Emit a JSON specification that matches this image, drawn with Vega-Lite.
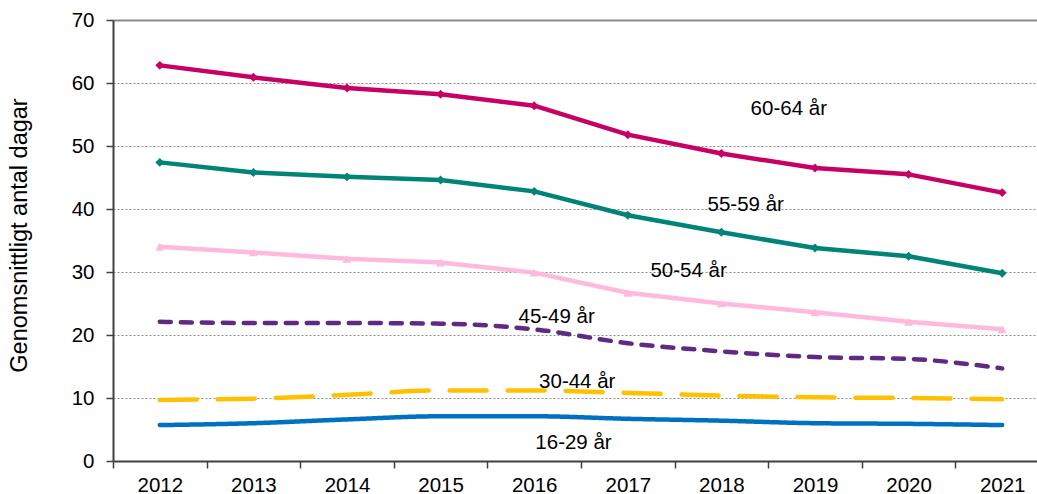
{
  "$schema": "https://vega.github.io/schema/vega-lite/v6.json",
  "width": 924,
  "height": 441,
  "autosize": {"type": "none"},
  "padding": {"left": 113, "top": 20, "right": 0, "bottom": 33},
  "config": {
    "view": {"stroke": null},
    "font": "Liberation Sans",
    "axis": {"labelFont": "Liberation Sans", "titleFont": "Liberation Sans"}
  },
  "datasets": {
    "series": [
      {"group": "60-64 år", "year": 2012, "value": 62.8},
      {"group": "60-64 år", "year": 2013, "value": 60.9},
      {"group": "60-64 år", "year": 2014, "value": 59.2},
      {"group": "60-64 år", "year": 2015, "value": 58.2},
      {"group": "60-64 år", "year": 2016, "value": 56.4},
      {"group": "60-64 år", "year": 2017, "value": 51.8},
      {"group": "60-64 år", "year": 2018, "value": 48.8},
      {"group": "60-64 år", "year": 2019, "value": 46.5},
      {"group": "60-64 år", "year": 2020, "value": 45.5},
      {"group": "60-64 år", "year": 2021, "value": 42.6},
      {"group": "55-59 år", "year": 2012, "value": 47.4},
      {"group": "55-59 år", "year": 2013, "value": 45.8},
      {"group": "55-59 år", "year": 2014, "value": 45.1},
      {"group": "55-59 år", "year": 2015, "value": 44.6},
      {"group": "55-59 år", "year": 2016, "value": 42.8},
      {"group": "55-59 år", "year": 2017, "value": 39.0},
      {"group": "55-59 år", "year": 2018, "value": 36.3},
      {"group": "55-59 år", "year": 2019, "value": 33.8},
      {"group": "55-59 år", "year": 2020, "value": 32.5},
      {"group": "55-59 år", "year": 2021, "value": 29.8},
      {"group": "50-54 år", "year": 2012, "value": 34.0},
      {"group": "50-54 år", "year": 2013, "value": 33.1},
      {"group": "50-54 år", "year": 2014, "value": 32.1},
      {"group": "50-54 år", "year": 2015, "value": 31.5},
      {"group": "50-54 år", "year": 2016, "value": 29.9},
      {"group": "50-54 år", "year": 2017, "value": 26.7},
      {"group": "50-54 år", "year": 2018, "value": 25.0},
      {"group": "50-54 år", "year": 2019, "value": 23.6},
      {"group": "50-54 år", "year": 2020, "value": 22.1},
      {"group": "50-54 år", "year": 2021, "value": 20.9},
      {"group": "45-49 år", "year": 2012, "value": 22.1},
      {"group": "45-49 år", "year": 2013, "value": 21.9},
      {"group": "45-49 år", "year": 2014, "value": 21.9},
      {"group": "45-49 år", "year": 2015, "value": 21.8},
      {"group": "45-49 år", "year": 2016, "value": 20.9},
      {"group": "45-49 år", "year": 2017, "value": 18.7},
      {"group": "45-49 år", "year": 2018, "value": 17.4},
      {"group": "45-49 år", "year": 2019, "value": 16.5},
      {"group": "45-49 år", "year": 2020, "value": 16.2},
      {"group": "45-49 år", "year": 2021, "value": 14.7},
      {"group": "30-44 år", "year": 2012, "value": 9.7},
      {"group": "30-44 år", "year": 2013, "value": 9.9},
      {"group": "30-44 år", "year": 2014, "value": 10.5},
      {"group": "30-44 år", "year": 2015, "value": 11.2},
      {"group": "30-44 år", "year": 2016, "value": 11.2},
      {"group": "30-44 år", "year": 2017, "value": 10.8},
      {"group": "30-44 år", "year": 2018, "value": 10.4},
      {"group": "30-44 år", "year": 2019, "value": 10.1},
      {"group": "30-44 år", "year": 2020, "value": 10.0},
      {"group": "30-44 år", "year": 2021, "value": 9.8},
      {"group": "16-29 år", "year": 2012, "value": 5.7},
      {"group": "16-29 år", "year": 2013, "value": 6.0},
      {"group": "16-29 år", "year": 2014, "value": 6.6},
      {"group": "16-29 år", "year": 2015, "value": 7.1},
      {"group": "16-29 år", "year": 2016, "value": 7.1},
      {"group": "16-29 år", "year": 2017, "value": 6.7},
      {"group": "16-29 år", "year": 2018, "value": 6.4},
      {"group": "16-29 år", "year": 2019, "value": 6.0},
      {"group": "16-29 år", "year": 2020, "value": 5.9},
      {"group": "16-29 år", "year": 2021, "value": 5.7}
    ],
    "labels": [
      {"label": "60-64 år", "x": 2018.72, "y": 55.8},
      {"label": "55-59 år", "x": 2018.26, "y": 40.7},
      {"label": "50-54 år", "x": 2017.65, "y": 30.1},
      {"label": "45-49 år", "x": 2016.24, "y": 22.9},
      {"label": "30-44 år", "x": 2016.46, "y": 12.6},
      {"label": "16-29 år", "x": 2016.42, "y": 2.9}
    ]
  },
  "layer": [
    {
      "data": {"name": "series"},
      "transform": [{"filter": {"field": "group", "oneOf": ["60-64 år", "55-59 år", "50-54 år"]}}],
      "mark": {"type": "line", "strokeWidth": 4.5, "strokeCap": "round", "strokeJoin": "round"},
      "encoding": {
        "x": {
          "field": "year", "type": "quantitative",
          "scale": {"domain": [2011.5, 2021.372], "nice": false, "zero": false},
          "axis": {
            "values": [2012, 2013, 2014, 2015, 2016, 2017, 2018, 2019, 2020, 2021],
            "format": "d", "title": null, "grid": false,
            "tickOffset": -46.8, "labelOffset": 46.8,
            "tickSize": 7, "tickColor": "#404040", "tickWidth": 1.5,
            "domainColor": "#404040", "domainWidth": 2,
            "labelFontSize": 20.5, "labelColor": "#000000", "labelPadding": 7,
            "labelFlush": false, "labelOverlap": false
          }
        },
        "y": {
          "field": "value", "type": "quantitative",
          "scale": {"domain": [0, 70], "nice": false},
          "axis": {
            "values": [0, 10, 20, 30, 40, 50, 60, 70],
            "title": "Genomsnittligt antal dagar",
            "titleFontSize": 23.5, "titleFontWeight": "normal", "titleColor": "#000000", "titlePadding": 40, "titleY": 215,
            "grid": true, "gridColor": "#8c8c8c", "gridDash": [2, 2], "gridWidth": 1,
            "tickSize": 7, "tickColor": "#404040", "tickWidth": 1.5,
            "domainColor": "#404040", "domainWidth": 2,
            "labelFontSize": 20.5, "labelColor": "#000000", "labelPadding": 12
          }
        },
        "color": {
          "field": "group", "type": "nominal", "legend": null,
          "scale": {
            "domain": ["60-64 år", "55-59 år", "50-54 år", "45-49 år", "30-44 år", "16-29 år"],
            "range": ["#C60064", "#008478", "#FFB9DC", "#5F2A83", "#FFC000", "#0070C0"]
          }
        }
      }
    },
    {
      "data": {"name": "series"},
      "transform": [{"filter": {"field": "group", "oneOf": ["45-49 år", "30-44 år", "16-29 år"]}}],
      "mark": {"type": "line", "strokeWidth": 4.5, "strokeCap": "round", "interpolate": "monotone"},
      "encoding": {
        "x": {"field": "year", "type": "quantitative", "axis": null},
        "y": {"field": "value", "type": "quantitative"},
        "color": {"field": "group", "type": "nominal", "legend": null},
        "strokeDash": {
          "field": "group", "type": "nominal", "legend": null,
          "scale": {"domain": ["45-49 år", "30-44 år", "16-29 år"], "range": [[11, 10], [37, 21], [1, 0]]}
        }
      }
    },
    {
      "data": {"name": "series"},
      "transform": [{"filter": {"field": "group", "oneOf": ["60-64 år", "55-59 år", "50-54 år"]}}],
      "mark": {"type": "point", "filled": true, "opacity": 1, "size": 80},
      "encoding": {
        "x": {"field": "year", "type": "quantitative", "axis": null},
        "y": {"field": "value", "type": "quantitative"},
        "color": {"field": "group", "type": "nominal", "legend": null},
        "shape": {
          "field": "group", "type": "nominal", "legend": null,
          "scale": {"domain": ["60-64 år", "55-59 år", "50-54 år"], "range": ["diamond", "diamond", "triangle-up"]}
        }
      }
    },
    {
      "data": {"name": "labels"},
      "mark": {"type": "text", "fontSize": 20.5, "align": "center", "baseline": "middle", "color": "#000000", "font": "Liberation Sans"},
      "encoding": {
        "x": {
          "field": "x", "type": "quantitative",
          "axis": {"orient": "top", "domain": true, "domainColor": "#8c8c8c", "domainWidth": 2, "labels": false, "ticks": false, "grid": false, "title": null}
        },
        "y": {"field": "y", "type": "quantitative"},
        "text": {"field": "label"}
      }
    }
  ],
  "resolve": {"axis": {"x": "independent"}}
}
